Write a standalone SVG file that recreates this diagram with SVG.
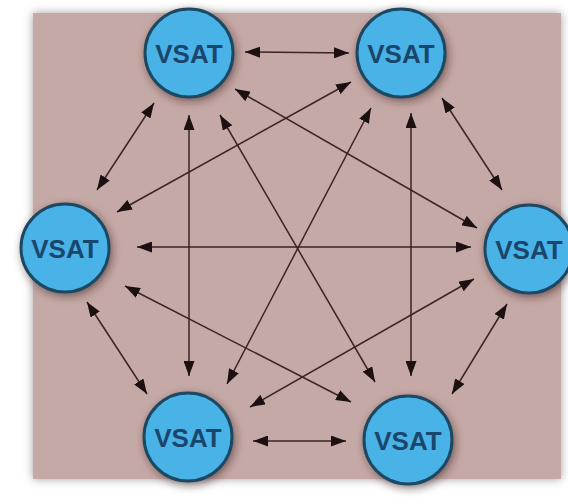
<svg xmlns="http://www.w3.org/2000/svg" width="568" height="498" viewBox="0 0 568 498">
  <defs>
    <filter id="bgShadow" x="-10%" y="-10%" width="120%" height="120%">
      <feDropShadow dx="0" dy="0" stdDeviation="5" flood-color="#6a5a5a" flood-opacity="0.6"/>
    </filter>
    <filter id="nodeShadow" x="-30%" y="-30%" width="160%" height="160%">
      <feDropShadow dx="2" dy="3" stdDeviation="4" flood-color="#3a2222" flood-opacity="0.55"/>
    </filter>
    <marker id="arrow" viewBox="0 0 15 11" refX="15" refY="5.5" markerWidth="15" markerHeight="11" markerUnits="userSpaceOnUse" orient="auto-start-reverse">
      <path d="M0,0 L15,5.5 L0,11 z" fill="#1c1010"/>
    </marker>
  </defs>
  <style>
    .edge { stroke: #3a2424; stroke-width: 1.5; fill: none; marker-start: url(#arrow); marker-end: url(#arrow); }
    .node circle { fill: #4ab3e8; stroke: #1d4862; stroke-width: 3; filter: url(#nodeShadow); }
    .node text { font-family: "Liberation Sans", Arial, sans-serif; font-weight: bold; font-size: 26px; fill: #1a466c; text-anchor: middle; }
  </style>
  <rect width="568" height="498" fill="#ffffff"/>
  <rect x="33" y="13" width="528" height="466" fill="#c5a9a6" filter="url(#bgShadow)"/>
  <g id="connectors">
    <line class="edge" x1="245" y1="52" x2="349" y2="53"/>
    <line class="edge" x1="154" y1="103" x2="97" y2="190"/>
    <line class="edge" x1="235" y1="89" x2="477" y2="228"/>
    <line class="edge" x1="189" y1="115" x2="189" y2="376"/>
    <line class="edge" x1="220" y1="115" x2="375" y2="382"/>
    <line class="edge" x1="351" y1="82" x2="117" y2="212"/>
    <line class="edge" x1="442" y1="98" x2="502" y2="190"/>
    <line class="edge" x1="371" y1="108" x2="227" y2="384"/>
    <line class="edge" x1="411" y1="113" x2="411" y2="376"/>
    <line class="edge" x1="137" y1="247" x2="471" y2="247"/>
    <line class="edge" x1="87" y1="302" x2="147" y2="394"/>
    <line class="edge" x1="125" y1="286" x2="351" y2="402"/>
    <line class="edge" x1="474" y1="279" x2="250" y2="407"/>
    <line class="edge" x1="507" y1="304" x2="452" y2="394"/>
    <line class="edge" x1="253" y1="441" x2="346" y2="441"/>
  </g>
  <g id="node-top-left" class="node">
    <circle cx="189" cy="53" r="44"/>
    <text x="189" y="63">VSAT</text>
  </g>
  <g id="node-top-right" class="node">
    <circle cx="401" cy="53" r="44"/>
    <text x="401" y="63">VSAT</text>
  </g>
  <g id="node-left" class="node">
    <circle cx="65" cy="248" r="44"/>
    <text x="65" y="258">VSAT</text>
  </g>
  <g id="node-right" class="node">
    <circle cx="529" cy="249" r="44"/>
    <text x="529" y="259">VSAT</text>
  </g>
  <g id="node-bottom-left" class="node">
    <circle cx="188" cy="437" r="44"/>
    <text x="188" y="447">VSAT</text>
  </g>
  <g id="node-bottom-right" class="node">
    <circle cx="408" cy="440" r="44"/>
    <text x="408" y="450">VSAT</text>
  </g>
</svg>
